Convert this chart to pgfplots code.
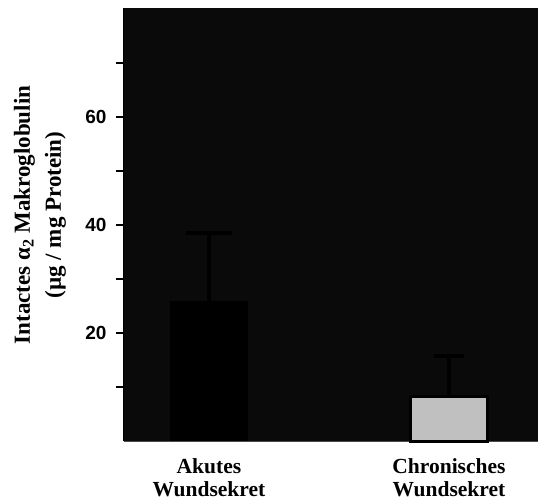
\documentclass[border=0pt]{standalone}
\usepackage{pgfplots}
\pgfplotsset{compat=1.18}
\usepackage{fontspec}
\setmainfont{Liberation Serif}
\newfontfamily\arialfont{Liberation Sans}
\definecolor{bgc}{HTML}{0A0A0A}
\definecolor{barg}{HTML}{C0C0C0}
\begin{document}
\begin{tikzpicture}
\begin{axis}[
  at={(0,0)}, anchor=south west,
  scale only axis, width=414pt, height=433pt,
  xmin=-0.354, xmax=1.371, ymin=0, ymax=80.2,
  axis background/.style={fill=bgc},
  axis x line=bottom, axis y line=left,
  axis line style={-},
  x axis line style={draw=black!70, line width=1pt},
  y axis line style={draw=black, line width=1pt},
  ytick={10,20,30,40,50,60,70},
  yticklabels={,20,,40,,60,},
  tick align=outside,
  major tick length=8pt,
  ytick style={line width=1.5pt, black},
  xtick={0,1.0},
  xtick style={draw=none},
  xticklabels={Akutes\\Wundsekret, Chronisches\\Wundsekret},
  xticklabel style={align=center, font=\bfseries\fontsize{21.5}{23}\selectfont, yshift=-6pt},
  yticklabel style={font=\arialfont\bfseries\fontsize{19}{19}\selectfont, xshift=-6pt},
  /pgf/number format/assume math mode=true,
  ylabel={Intactes α\textsubscript{2} Makroglobulin\\(µg / mg Protein)},
  ylabel style={at={(axis description cs:-0.203,0.522)}, anchor=center, align=center,
    font=\bfseries\fontsize{23}{31}\selectfont},
  ybar, bar width=0.323,
  clip=false,
]
\addplot[fill=black, draw=none, bar shift=0pt,
  error bars/.cd, y dir=plus, y explicit,
  error bar style={line width=4pt, black},
  error mark options={line width=4.5pt, black, mark size=23pt, rotate=90}]
  coordinates {(0,26.0) +- (0,12.5)};
\addplot[fill=barg, draw=black, line width=3pt, bar shift=0pt, bar width=0.317,
  error bars/.cd, y dir=plus, y explicit,
  error bar style={line width=4pt, black},
  error mark options={line width=4.5pt, black, mark size=15pt, rotate=90}]
  coordinates {(1.0,8.2) +- (0,7.5)};
\end{axis}
\pgfresetboundingbox
\path[use as bounding box] (-124pt,-60pt) rectangle (414pt,441pt);
\end{tikzpicture}
\end{document}
